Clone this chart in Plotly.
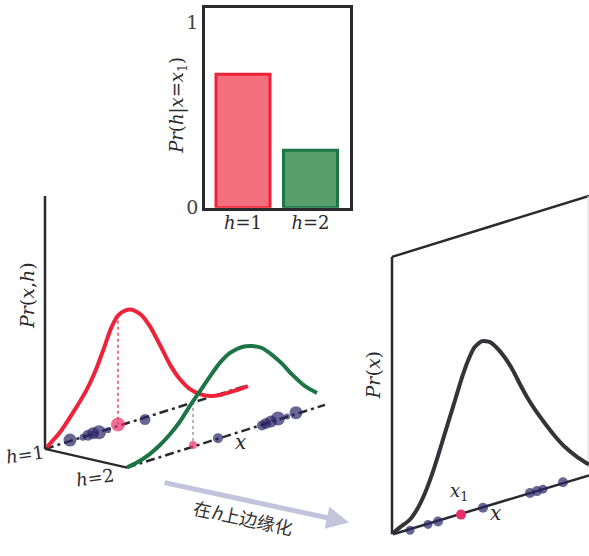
import plotly.graph_objects as go

# ---------------- data ----------------
# top bar chart  Pr(h|x=x1)
bar_cats = ["<i>h</i>=1", "<i>h</i>=2"]
bar_vals = [0.72, 0.31]

# left panel: joint Pr(x,h) curves (pixel coords)
red_x = [47, 60, 73, 87, 96, 104, 111, 118, 125, 132, 141, 150, 160, 170, 180, 190, 200, 210, 220, 230, 240, 248]
red_y = [456, 441, 421, 397, 377, 355, 335, 322, 317, 316, 321, 333, 352, 372, 387, 397, 402, 404, 403, 400, 397, 394]
green_x = [127, 140, 150, 160, 170, 180, 190, 200, 210, 220, 230, 242, 252, 262, 272, 282, 292, 305, 317]
green_y = [477, 470, 463, 454, 443, 430, 414, 399, 384, 370, 360, 354, 353, 355, 362, 371, 382, 394, 401]

# data points on the h=1 and h=2 axes
h1_dot_x = [70, 83, 88, 93, 99, 108, 145]
h1_dot_y = [449, 446, 444, 442, 441, 439, 428]
h1_dot_s = [13, 7, 11, 12, 14, 6, 11]
h1_pink = [118, 433]
h2_dot_x = [218, 262, 266, 271, 278, 287, 296]
h2_dot_y = [447, 434, 432, 430, 427, 425, 421]
h2_dot_s = [10, 10, 11, 12, 14, 6, 13]
h2_pink = [193, 454]

# right panel: marginal Pr(x)
marg_x = [393, 400, 410, 418, 425, 432, 438, 444, 450, 456, 462, 468, 474, 482, 490, 497, 505, 513, 520, 527, 535, 545, 555, 565, 577, 589]
marg_y = [544, 538, 530, 518, 503, 484, 465, 445, 425, 405, 385, 368, 355, 348, 349, 355, 365, 378, 392, 405, 418, 432, 445, 456, 466, 474]
r_dot_x = [410, 428, 438, 483, 530, 537, 543, 563]
r_dot_y = [541, 535, 532, 518, 503, 501, 499, 492]
r_dot_s = [9, 9, 10, 10, 10, 10, 9, 10]
r_pink = [461, 525]

# ---------------- styles ----------------
INK = "#2a2a2e"
RED = "#ee2238"
GREEN = "#1d7546"
DOT = "#2b2566"
PINK = "#e8306a"
SERIF = "DejaVu Serif"

fig = go.Figure()

def seg(x, y, color=INK, width=2.5, dash="solid"):
    fig.add_trace(go.Scatter(x=x, y=y, mode="lines", line=dict(color=color, width=width, dash=dash),
                             hoverinfo="skip", showlegend=False, xaxis="x", yaxis="y"))

# left panel axes
seg([45, 45], [200, 458], width=2.5)
seg([45, 127], [458, 477], width=2.2)
seg([45, 248], [458, 393], width=2.5, dash="9px,4px,3px,4px")
seg([127, 325], [477, 413], width=2.5, dash="9px,4px,3px,4px")

# dotted drops
seg([118, 118], [321, 433], color=RED, width=1.3, dash="dot")
seg([193, 193], [410, 454], color="#9a8c90", width=1.3, dash="dot")

# curves
fig.add_trace(go.Scatter(x=red_x, y=red_y, mode="lines",
                         line=dict(color=RED, width=4, shape="spline", smoothing=0.6),
                         hoverinfo="skip", showlegend=False))
fig.add_trace(go.Scatter(x=green_x, y=green_y, mode="lines",
                         line=dict(color=GREEN, width=4, shape="spline", smoothing=0.6),
                         hoverinfo="skip", showlegend=False))

# dots
fig.add_trace(go.Scatter(x=h1_dot_x + h2_dot_x, y=h1_dot_y + h2_dot_y, mode="markers",
                         marker=dict(color=DOT, size=h1_dot_s + h2_dot_s, line=dict(width=0)),
                         hoverinfo="skip", showlegend=False))
fig.add_trace(go.Scatter(x=[h1_pink[0], h2_pink[0]], y=[h1_pink[1], h2_pink[1]], mode="markers",
                         marker=dict(color=PINK, size=[14, 8], line=dict(width=0)),
                         hoverinfo="skip", showlegend=False))

# right panel
seg([392, 392], [262, 545], width=2.5)
seg([392, 589], [262, 200], width=2.5)
seg([588, 588], [200, 478], color="#dcdcdc", width=1.2)
seg([393, 589], [545, 485], width=2.5)
fig.add_trace(go.Scatter(x=marg_x, y=marg_y, mode="lines",
                         line=dict(color="#333338", width=4, shape="spline", smoothing=0.6),
                         hoverinfo="skip", showlegend=False))
fig.add_trace(go.Scatter(x=r_dot_x, y=r_dot_y, mode="markers",
                         marker=dict(color=DOT, size=r_dot_s, line=dict(width=0)),
                         hoverinfo="skip", showlegend=False))
fig.add_trace(go.Scatter(x=[r_pink[0]], y=[r_pink[1]], mode="markers",
                         marker=dict(color=PINK, size=10, line=dict(width=0)),
                         hoverinfo="skip", showlegend=False))

# bar chart
fig.add_trace(go.Bar(x=[0, 1], y=bar_vals, width=0.8,
                     marker=dict(color=["#f4707e", "#579f6b"], line=dict(color=[RED, GREEN], width=3)),
                     hoverinfo="skip", showlegend=False, xaxis="x2", yaxis="y2"))

def txt(x, y, s, size=19, angle=0, family=SERIF, color=INK):
    fig.add_annotation(x=x, y=y, xref="x", yref="y", text=s, showarrow=False, textangle=angle,
                       font=dict(family=family, size=size, color=color), xanchor="center", yanchor="middle")

txt(27, 302, "<i>Pr</i>(<i>x</i>,<i>h</i>)", size=19, angle=-90)
txt(25, 464, "<i>h</i>=1", size=18, angle=-8)
txt(95, 487, "<i>h</i>=2", size=18, angle=-8)
txt(240, 451, "<i>x</i>", size=20)
txt(373, 383, "<i>Pr</i>(<i>x</i>)", size=19, angle=-90)
txt(459, 502, "<i>x</i><sub>1</sub>", size=18)
txt(495, 523, "<i>x</i>", size=20)
txt(178, 108, "<i>Pr</i>(<i>h</i>|<i>x</i>=<i>x</i><sub>1</sub>)", size=18, angle=-90)

# marginalisation arrow
fig.add_annotation(x=349, y=533, ax=163, ay=492, xref="x", yref="y", axref="x", ayref="y",
                   showarrow=True, arrowhead=2, arrowsize=0.9, arrowwidth=5, arrowcolor="#c3c3dc", text="")
txt(243, 527, "在<i>h</i>上边缘化", size=18, angle=12, family="Noto Sans CJK SC", color="#333")

fig.update_layout(
    width=589, height=556, margin=dict(l=0, r=0, t=0, b=0),
    font=dict(family=SERIF, color=INK),
    paper_bgcolor="white", plot_bgcolor="rgba(0,0,0,0)",
    xaxis=dict(domain=[0, 1], range=[0, 589], visible=False, fixedrange=True),
    yaxis=dict(domain=[0, 1], range=[556, 0], visible=False, fixedrange=True),
    xaxis2=dict(domain=[205 / 589, 350 / 589], range=[-0.563, 1.585], anchor="y2",
                showline=True, mirror=True, linecolor=INK, linewidth=2.5, showgrid=False, zeroline=False,
                tickvals=[0, 1], ticktext=bar_cats, ticks="", ticklabelstandoff=-3,
                tickfont=dict(family=SERIF, size=18, color=INK)),
    yaxis2=dict(domain=[1 - 212 / 556, 1 - 8 / 556], range=[0, 1.079], anchor="x2",
                showline=True, mirror=True, linecolor=INK, linewidth=2.5, showgrid=False, zeroline=False,
                tickvals=[0, 1], ticks="", tickfont=dict(family=SERIF, size=19, color="#444")),
)

fig.write_html("out.html")
